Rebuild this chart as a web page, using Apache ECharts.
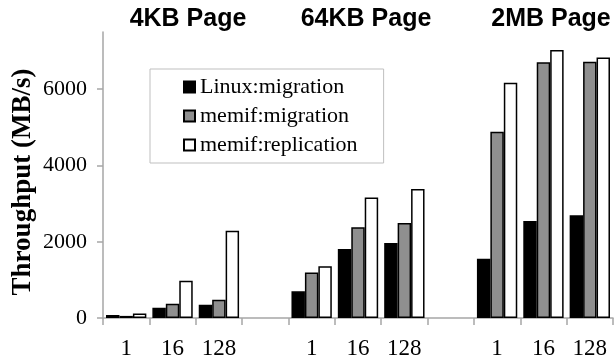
<!DOCTYPE html>
<html>
<head>
<meta charset="utf-8">
<script src="https://cdn.jsdelivr.net/npm/echarts@6/dist/echarts.min.js"></script>
<style>
html,body{margin:0;padding:0;background:#fff;}
#chart{width:615px;height:362px;}
</style>
</head>
<body>
<div id="chart"></div>
<script>
var categories = ['1', '16', '128', '', '1', '16', '128', '', '1', '16', '128'];
var linuxMigration = [80, 270, 350, null, 700, 1810, 1965, null, 1555, 2545, 2695];
var memifMigration = [55, 375, 480, null, 1195, 2380, 2490, null, 4885, 6705, 6720];
var memifReplication = [120, 975, 2290, null, 1355, 3160, 3385, null, 6170, 7030, 6830];
var yTicks = [0, 2000, 4000, 6000];
var groupTitles = ['4KB Page', '64KB Page', '2MB Page'];
var seriesNames = ['Linux:migration', 'memif:migration', 'memif:replication'];

var serif = '"Liberation Serif", "Times New Roman", serif';
var sans = '"Liberation Sans", Arial, sans-serif';
var axisGray = '#a6a6a6';

function barSeries(name, data, color) {
  return {
    name: name,
    type: 'bar',
    data: data,
    barGap: '0%',
    barCategoryGap: '13%',
    itemStyle: { color: color, borderColor: '#000', borderWidth: 1.5 }
  };
}

var chart = echarts.init(document.getElementById('chart'), null, { renderer: 'canvas' });
chart.setOption({
  animation: false,
  backgroundColor: '#fff',
  grid: { left: 103, right: 2, top: 32, bottom: 44, containLabel: false },
  legend: {
    orient: 'vertical',
    left: 150,
    top: 69,
    padding: [7, 26, 7, 33],
    itemWidth: 11,
    itemHeight: 11,
    itemGap: 7,
    borderColor: '#bfbfbf',
    borderWidth: 1,
    icon: 'rect',
    data: seriesNames,
    textStyle: { fontFamily: serif, fontSize: 22, color: '#000' }
  },
  xAxis: {
    type: 'category',
    data: categories,
    axisLine: { lineStyle: { color: axisGray, width: 1.5 } },
    axisTick: { show: true, length: 7, lineStyle: { color: axisGray, width: 1.5 } },
    axisLabel: { fontFamily: serif, fontSize: 23, color: '#000', margin: 19, interval: 0 },
    splitLine: { show: false }
  },
  yAxis: {
    type: 'value',
    min: 0,
    max: 7500,
    interval: 2000,
    axisLine: { show: true, lineStyle: { color: axisGray, width: 1.5 } },
    axisTick: { show: true, length: 6, customValues: yTicks, lineStyle: { color: axisGray, width: 1.5 } },
    axisLabel: {
      fontFamily: serif, fontSize: 22, color: '#000', margin: 16, customValues: yTicks,
      formatter: function (v) { return String(v); }
    },
    splitLine: { show: false }
  },
  graphic: [
    { type: 'text', x: 188, y: 19, style: { text: groupTitles[0], fontFamily: sans, fontWeight: 'bold', fontSize: 25, fill: '#000', align: 'center', verticalAlign: 'middle' } },
    { type: 'text', x: 366, y: 19, style: { text: groupTitles[1], fontFamily: sans, fontWeight: 'bold', fontSize: 25, fill: '#000', align: 'center', verticalAlign: 'middle' } },
    { type: 'text', x: 551, y: 19, style: { text: groupTitles[2], fontFamily: sans, fontWeight: 'bold', fontSize: 25, fill: '#000', align: 'center', verticalAlign: 'middle' } },
    { type: 'text', x: 23, y: 182, rotation: Math.PI / 2, style: { text: 'Throughput (MB/s)', fontFamily: serif, fontWeight: 'bold', fontSize: 27, fill: '#000', align: 'center', verticalAlign: 'middle' } }
  ],
  series: [
    barSeries(seriesNames[0], linuxMigration, '#000000'),
    barSeries(seriesNames[1], memifMigration, '#8f8f8f'),
    barSeries(seriesNames[2], memifReplication, '#ffffff')
  ]
});
</script>
</body>
</html>
